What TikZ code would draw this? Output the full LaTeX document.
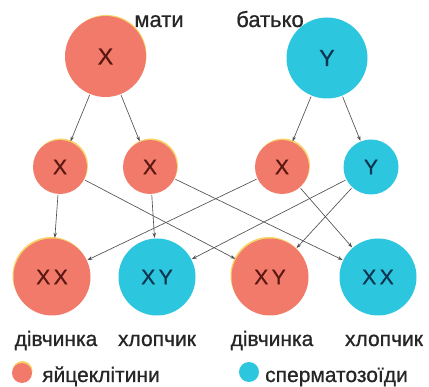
\documentclass[tikz,border=0pt]{standalone}
\usepackage{fontspec}
\setmainfont{Liberation Sans}
\newfontfamily\medfont[FakeBold=0.8]{Liberation Sans}
\usetikzlibrary{arrows.meta}
\definecolor{salmon}{HTML}{F27A6A}
\definecolor{aqua}{HTML}{2CC6DE}
\definecolor{halo}{HTML}{F6D46A}
\definecolor{redtxt}{HTML}{5A1812}
\definecolor{bluetxt}{HTML}{0E3550}
\definecolor{linec}{HTML}{505050}
\begin{document}
\begin{tikzpicture}[x=1pt,y=-1pt,
  eggbig/.style={circle,fill=salmon,inner sep=0pt,text=redtxt},
  spbig/.style={circle,fill=aqua,inner sep=0pt,text=bluetxt},
  lbl/.style={inner sep=0pt,anchor=base,font=\medfont\fontsize{21}{21}\selectfont,text=black!85},
  chr/.style={font=\medfont\fontsize{23}{23}\selectfont},
  chrs/.style={font=\medfont\fontsize{21}{21}\selectfont},
  arr/.style={draw=linec,line width=0.65pt,-{Stealth[length=5pt,width=3.5pt]},shorten <=1pt,shorten >=0.5pt}]
\useasboundingbox (0,0) rectangle (429,387);
\fill[white] (0,0) rectangle (429,387);
% halos
\fill[halo] (106.5,55) circle (40);
\fill[halo] (61,165.5) circle (27);
\fill[halo] (151,165.5) circle (27);
\fill[halo] (283,165.5) circle (27);
\fill[halo] (51,275.5) circle (38.5);
\fill[halo] (269,275.5) circle (38.5);
% parents
\node[eggbig,minimum size=81pt,chr] (m) at (105.5,56.5) {X};
\node[spbig,minimum size=81pt,chr] (f) at (327,58) {Y};
\node[lbl,font=\medfont\fontsize{22}{22}\selectfont] (ml) at (159,27) {мати};
\node[lbl,font=\medfont\fontsize{22}{22}\selectfont] (fl) at (270,27) {батько};
% gametes
\node[eggbig,minimum size=54pt,chrs] (c1) at (60,167) {X};
\node[eggbig,minimum size=54pt,chrs] (c2) at (150,167) {X};
\node[eggbig,minimum size=54pt,chrs] (c3) at (282,167) {X};
\node[spbig,minimum size=55pt,chrs] (c4) at (371,167) {Y};
% children
\node[eggbig,minimum size=77pt,chrs] (b1) at (52,277) {X\,X};
\node[spbig,minimum size=77pt,chrs] (b2) at (157,277) {X\,Y};
\node[eggbig,minimum size=77pt,chrs] (b3) at (270,277) {X\,Y};
\node[spbig,minimum size=77pt,chrs] (b4) at (378,277) {X\,X};
\node[lbl] (l1) at (56,346) {дівчинка};
\node[lbl] (l2) at (157,346) {хлопчик};
\node[lbl] (l3) at (272,346) {дівчинка};
\node[lbl] (l4) at (384,346) {хлопчик};
% legend
\fill[halo] (22.5,371) circle (10);
\node[circle,fill=salmon,inner sep=0pt,minimum size=20pt] (k1) at (22,373) {};
\node[lbl,anchor=base west] (k1t) at (42,382) {яйцеклітини};
\node[circle,fill=aqua,inner sep=0pt,minimum size=20pt] (k2) at (249,372) {};
\node[lbl,anchor=base west] (k2t) at (265,382) {сперматозоїди};
% arrows
\draw[arr] (m) -- (c1);
\draw[arr] (m) -- (c2);
\draw[arr] (f) -- (c3);
\draw[arr] (f) -- (c4);
\draw[arr] (c1) -- (b1);
\draw[arr] (c1) -- (b3);
\draw[arr] (c2) -- (b2);
\draw[arr] (c2) -- (b4);
\draw[arr] (c3) -- (b1);
\draw[arr] (c3) -- (b4);
\draw[arr] (c4) -- (b2);
\draw[arr] (c4) -- (b3);
\end{tikzpicture}
\end{document}
